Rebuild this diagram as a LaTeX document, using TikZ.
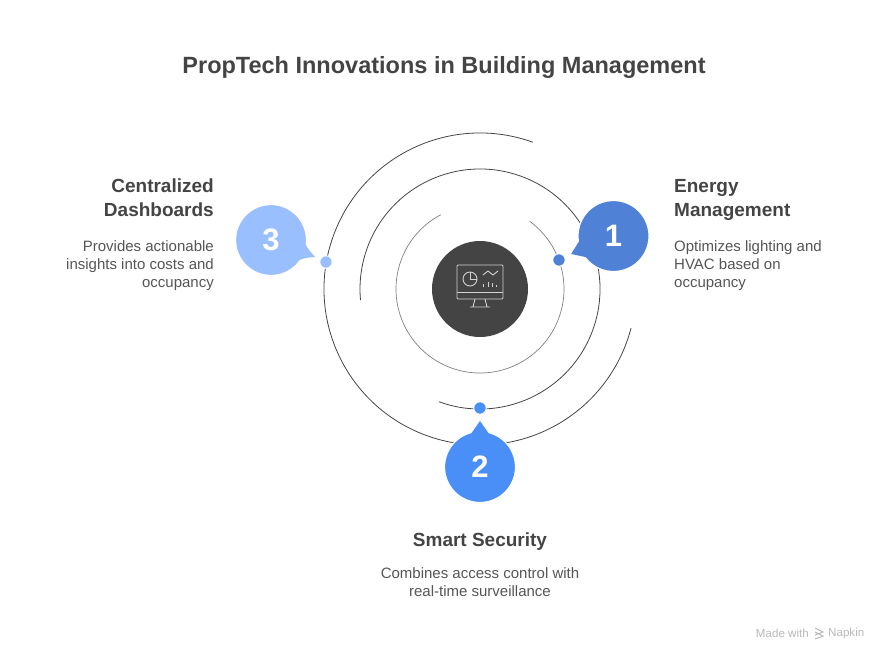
\documentclass[tikz,border=0pt]{standalone}
\usepackage{fontspec}
\setmainfont{Liberation Sans}
\usepackage{xcolor}
\usetikzlibrary{positioning}
\definecolor{inkdark}{HTML}{444444}
\definecolor{inkbody}{HTML}{555555}
\definecolor{stepa}{HTML}{4F81D6}
\definecolor{stepb}{HTML}{4A8EF8}
\definecolor{stepc}{HTML}{99BFFF}

\begin{document}
\begin{tikzpicture}[
  x=1pt, y=1pt,
  hub/.style={circle, fill=inkdark, minimum size=96pt, inner sep=0pt},
  bubble/.style={circle, minimum size=71pt, inner sep=0pt, text=white,
                 font=\fontsize{31}{31}\selectfont\bfseries},
  marker/.style={circle, draw=white, line width=1pt, minimum size=12.5pt, inner sep=0pt},
  heading/.style={font=\fontsize{19}{24}\selectfont\bfseries, text=inkdark, inner sep=0pt},
  body/.style={font=\fontsize{15}{18}\selectfont, text=inkbody, inner sep=0pt},
  ring/.style={inkdark, line width=0.8pt},
  icon/.style={draw=white!82!black, line width=0.9pt}
]
\useasboundingbox (0,-661) rectangle (888,0);

\node[font=\fontsize{23.5}{28}\selectfont\bfseries, text=inkdark] (title) at (444,-67)
  {PropTech Innovations in Building Management};

\node[hub] (core) at (480,-289) {};

% rings
\draw[ring, gray, line width=0.7pt] (core.center) ++(117.8:84) arc[start angle=117.8, end angle=413.7, radius=84];
\draw[ring] (core.center) ++(250:120) arc[start angle=250, end angle=545.3, radius=120];
\draw[ring] (core.center) ++(70.2:156) arc[start angle=70.2, end angle=345.5, radius=156];

% icon
\begin{scope}[shift={(core.center)}]
  \draw[icon, rounded corners=1pt] (-23,24) rectangle (23,-10);
  \draw[icon] (-23,-3) -- (23,-3);
  \draw[icon] (-5,-10) -- (-7,-18) (5,-10) -- (7,-18) (-10,-18) -- (10,-18);
  \draw[icon] (-10,10) circle[radius=7];
  \draw[icon] (-10,17) -- (-10,10) -- (-3,10);
  \draw[icon] (3,14) -- (8,18) -- (13,14) -- (18,18);
  \draw[icon] (3,2) -- (3,5) (8,2) -- (8,7) (12,2) -- (12,6) (16,2) -- (16,4);
\end{scope}

% bubbles
\node[bubble, fill=stepa, draw=white, line width=1.2pt] (one) at (613.5,-236) {1};
\node[bubble, fill=stepb, draw=white, line width=1.2pt] (two) at (480,-467) {2};
\node[bubble, fill=stepc, draw=white, line width=1.2pt] (three) at (271,-240) {3};

\foreach \bname/\ang/\len/\col in {one/203/46/stepa, two/90/46/stepb, three/-21/47.5/stepc}{
  \fill[\col] ([shift={(\ang+16:34)}]\bname.center)
    .. controls ([shift={(\ang+6:39)}]\bname.center) .. ([shift={(\ang:\len)}]\bname.center)
    .. controls ([shift={(\ang-6:39)}]\bname.center) .. ([shift={(\ang-16:34)}]\bname.center)
    -- cycle;
}

% markers
\node[marker, fill=stepa] (dotone) at (559,-260) {};
\node[marker, fill=stepb] (dottwo) at (480,-408) {};
\node[marker, fill=stepc] (dotthree) at (326,-262) {};

% labels
\node[heading, align=left, anchor=north west] (energy) at (674,-179) {Energy\\Management};
\node[body, align=left, below=20pt of energy.south west, anchor=north west] (energytext)
  {Optimizes lighting and\\HVAC based on\\occupancy};
\node[heading, align=right, anchor=north east] (dash) at (214,-179) {Centralized\\Dashboards};
\node[body, align=right, below=23.5pt of dash.south east, anchor=north east] (dashtext)
  {Provides actionable\\insights into costs and\\occupancy};
\node[heading, anchor=center] (security) at (480,-542) {Smart Security};
\node[body, align=center, below=16pt of security] (securitytext)
  {Combines access control with\\real-time surveillance};

% footer
\node[font=\fontsize{11.6}{13}\selectfont, text=black!28, anchor=east, inner sep=0pt] (made) at (809,-633) {Made with};
\node[font=\fontsize{11.6}{13}\selectfont, text=black!28, anchor=west, inner sep=0pt] (napkin) at (828,-633) {Napkin};
\draw[black!28, line width=1pt] (815,-628) -- (823,-632) -- (815,-635) (815,-632) -- (823,-636) -- (815,-639);
\end{tikzpicture}
\end{document}
